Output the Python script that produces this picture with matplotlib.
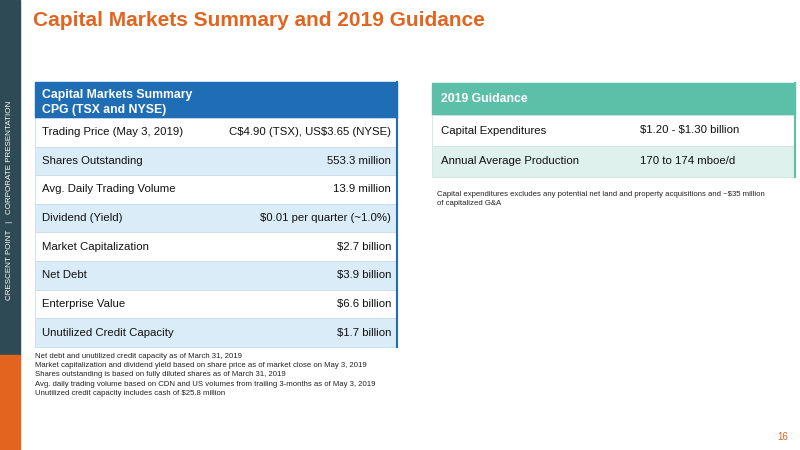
import matplotlib
matplotlib.use('Agg')
import matplotlib.pyplot as plt
from matplotlib.patches import Rectangle

plt.rcParams['text.parse_math'] = False
plt.rcParams['font.family'] = ['Liberation Sans', 'DejaVu Sans']

TITLE = "Capital Markets Summary and 2019 Guidance"
LEFT_HEADER = ["Capital Markets Summary", "CPG (TSX and NYSE)"]
LEFT_LABELS = ["Trading Price (May 3, 2019)", "Shares Outstanding", "Avg. Daily Trading Volume",
               "Dividend (Yield)", "Market Capitalization", "Net Debt", "Enterprise Value",
               "Unutilized Credit Capacity"]
LEFT_VALUES = ["C$4.90 (TSX), US$3.65 (NYSE)", "553.3 million", "13.9 million",
               "$0.01 per quarter (~1.0%)", "$2.7 billion", "$3.9 billion", "$6.6 billion",
               "$1.7 billion"]
LEFT_NOTES = ["Net debt and unutilized credit capacity as of March 31, 2019",
              "Market capitalization and dividend yield based on share price as of market close on May 3, 2019",
              "Shares outstanding is based on fully diluted shares as of March 31, 2019",
              "Avg. daily trading volume based on CDN and US volumes from trailing 3-months as of May 3, 2019",
              "Unutilized credit capacity includes cash of $25.8 million"]
RIGHT_HEADER = "2019 Guidance"
RIGHT_LABELS = ["Capital Expenditures", "Annual Average Production"]
RIGHT_VALUES = ["$1.20 - $1.30 billion", "170 to 174 mboe/d"]
RIGHT_NOTES = ["Capital expenditures excludes any potential net land and property acquisitions and ~$35 million",
               "of capitalized G&A"]

ORANGE = "#e2641e"
BLUE = "#1f6db5"
LBLUE = "#daecf8"
TEAL = "#5cbfa8"
LTEAL = "#dff1ed"
SIDE = "#2d4a55"

fig = plt.figure(figsize=(8, 4.5), dpi=100)
ax = fig.add_axes([0, 0, 1, 1])
ax.set_xlim(0, 800)
ax.set_ylim(450, 0)
ax.axis('off')

# sidebar
ax.add_patch(Rectangle((0, 0), 20, 355, color=SIDE))
ax.add_patch(Rectangle((0, 355), 20, 95, color=ORANGE))
ax.text(10, 200, "CRESCENT POINT   |   CORPORATE PRESENTATION", rotation=90, color="white",
        fontsize=5.8, ha="center", va="center")

ax.text(33, 20, TITLE, color=ORANGE, fontsize=15, fontweight="bold", va="center")
ax.text(788, 437, "16", color=ORANGE, fontsize=7, ha="right", va="center")

# left table
x0, x1 = 35, 397
ax.add_patch(Rectangle((x0, 82), x1 - x0, 36, color=BLUE))
ax.text(x0 + 7, 95, LEFT_HEADER[0], color="white", fontsize=8.8, fontweight="bold", va="center")
ax.text(x0 + 7, 110, LEFT_HEADER[1], color="white", fontsize=8.8, fontweight="bold", va="center")
rh = 28.6
for i, (lab, val) in enumerate(zip(LEFT_LABELS, LEFT_VALUES)):
    y = 118 + i * rh
    ax.add_patch(Rectangle((x0, y), x1 - x0, rh, facecolor=LBLUE if i % 2 else "white",
                           edgecolor="#c8dcea", lw=0.6))
    ax.text(x0 + 7, y + rh / 2, lab, fontsize=8.2, va="center", color="#111111")
    ax.text(x1 - 6, y + rh / 2, val, fontsize=8.2, va="center", ha="right", color="#111111")
ax.plot([x1, x1], [82, 118 + len(LEFT_LABELS) * rh], color=BLUE, lw=1.5)
for i, n in enumerate(LEFT_NOTES):
    ax.text(x0, 356 + i * 9.4, n, fontsize=5.6, va="center", color="#222222")

# right table
x0, x1 = 432, 795
ax.add_patch(Rectangle((x0, 83), x1 - x0, 32, color=TEAL))
ax.text(x0 + 9, 99, RIGHT_HEADER, color="white", fontsize=8.8, fontweight="bold", va="center")
rh2 = 31
for i, (lab, val) in enumerate(zip(RIGHT_LABELS, RIGHT_VALUES)):
    y = 115 + i * rh2
    ax.add_patch(Rectangle((x0, y), x1 - x0, rh2, facecolor=LTEAL if i % 2 else "white",
                           edgecolor="#cfe6e0", lw=0.6))
    ax.text(x0 + 9, y + rh2 / 2, lab, fontsize=8.2, va="center", color="#111111")
    ax.text(640, y + rh2 / 2, val, fontsize=8.2, va="center", color="#111111")
ax.plot([x1, x1], [83, 115 + len(RIGHT_LABELS) * rh2], color=TEAL, lw=1.5)
for i, n in enumerate(RIGHT_NOTES):
    ax.text(x0 + 5, 194 + i * 9.4, n, fontsize=5.6, va="center", color="#222222")

fig.savefig("out.png", dpi=100)
